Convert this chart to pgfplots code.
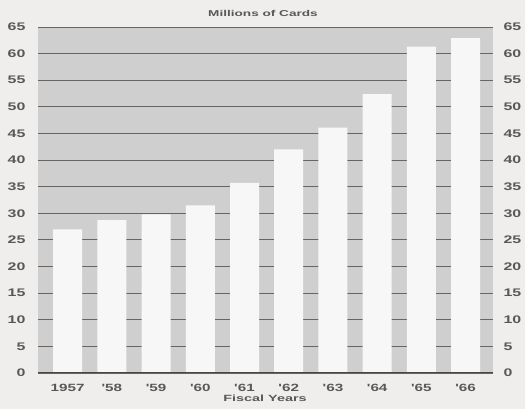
\documentclass[border=0pt]{standalone}
\usepackage{fontspec}
\usepackage{pgfplots}
\pgfplotsset{compat=1.18}
\newfontfamily\tickfont{Liberation Sans Bold}[FakeStretch=1.45]
\newfontfamily\titlefont{Liberation Sans Bold}[FakeStretch=1.6]
\definecolor{pagebg}{RGB}{240,238,237}
\definecolor{plotbg}{RGB}{208,207,207}
\definecolor{barcol}{RGB}{248,247,247}
\definecolor{gridcol}{RGB}{105,100,100}
\definecolor{txtcol}{RGB}{88,88,88}
\begin{document}
\begin{tikzpicture}
\path[use as bounding box, fill=pagebg] (-38pt,-36pt) rectangle (487pt,373pt);
\pgfplotsset{
  common/.style={
    scale only axis,
    width=455pt, height=346pt,
    at={(0pt,0pt)}, anchor=south west,
    xmin=-0.67, xmax=9.62,
    ymin=0, ymax=65,
    ytick={0,5,...,65},
    major tick length=0pt,
    axis line style={draw=none},
    /pgf/number format/assume math mode=true,
    yticklabel style={font=\tickfont\fontsize{11}{12}\selectfont, text=txtcol},
    xticklabel style={font=\tickfont\fontsize{10.5}{12}\selectfont, text=txtcol, yshift=-8pt},
  }
}
\begin{axis}[common,
  axis background/.style={fill=plotbg},
  ymajorgrids,
  grid style={draw=gridcol, line width=0.9pt},
  xtick={0,...,9},
  xticklabels={1957,'58,'59,'60,'61,'62,'63,'64,'65,'66},
  yticklabel style={xshift=-9pt},
]
\addplot[ybar, bar width=29pt, fill=barcol, draw=none, bar shift=0pt]
  coordinates {(0,27.0) (1,28.7) (2,29.8) (3,31.5) (4,35.7) (5,42.0) (6,46.1) (7,52.4) (8,61.3) (9,62.9)};
\draw[gridcol!70!black, line width=1.5pt] (axis cs:-0.67,0) -- (axis cs:9.62,0);
\end{axis}
\begin{axis}[common,
  xtick=\empty,
  yticklabel pos=right,
  yticklabel style={xshift=7pt, anchor=west},
]
\addplot[draw=none] coordinates {(0,0)};
\end{axis}
\node[font=\titlefont\fontsize{8.5}{10}\selectfont, text=txtcol] at (225pt,360pt) {Millions of Cards};
\node[font=\titlefont\fontsize{9}{10}\selectfont, text=txtcol] at (227pt,-25pt) {Fiscal Years};
\end{tikzpicture}
\end{document}
